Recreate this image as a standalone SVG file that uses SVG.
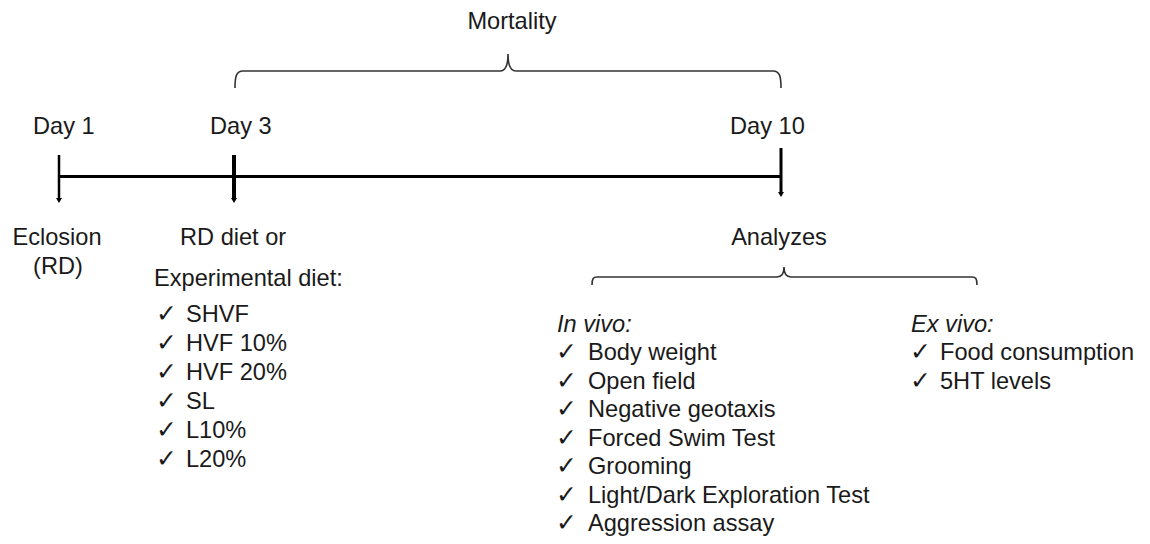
<svg xmlns="http://www.w3.org/2000/svg" width="1150" height="544" viewBox="0 0 1150 544">
<defs>
<style>
text{font-family:"Liberation Sans",Arial,sans-serif;font-size:23.6px;fill:#1a1a1a}
.it{font-style:italic}
.ck{font-family:"DejaVu Sans",sans-serif;font-size:25px}
.brace{fill:none;stroke:#333;stroke-width:1.6}
.axis{stroke:#000;stroke-width:3}
.tick{stroke:#000}
</style>
<marker id="tip" viewBox="0 0 6 6" refX="3" refY="0" markerWidth="6" markerHeight="6" markerUnits="userSpaceOnUse" orient="0">
<path d="M0,0 L6,0 L3,5 z" fill="#000"/>
</marker>
</defs>
<rect width="1150" height="544" fill="#fff"/>
<g id="connectors">
<line class="axis" x1="59" y1="176.5" x2="781" y2="176.5"/>
<line class="tick" x1="59" y1="155" x2="59" y2="198" stroke-width="2.5" marker-end="url(#tip)"/>
<line class="tick" x1="234" y1="155" x2="234" y2="198" stroke-width="4" marker-end="url(#tip)"/>
<line class="tick" x1="781" y1="148" x2="781" y2="192" stroke-width="3" marker-end="url(#tip)"/>
<path class="brace" d="M235,88 C235,77 236,71 243,71 L500,71 C505,71 508,67 508,54 C508,67 511,71 516,71 L773,71 C780,71 781,77 781,88"/>
<path class="brace" d="M592,285 C592,279 593,277 597,277 L777,277 C781,277 784,274 784,267 C784,274 787,277 791,277 L972,277 C976,277 977,279 977,285"/>
</g>
<g id="mortality"><text x="512" y="29" text-anchor="middle">Mortality</text></g>
<g id="day1"><text x="33" y="134">Day 1</text></g>
<g id="day3"><text x="210" y="134">Day 3</text></g>
<g id="day10"><text x="730" y="134">Day 10</text></g>
<g id="eclosion">
<text x="57" y="245" text-anchor="middle">Eclosion</text>
<text x="58" y="273.5" text-anchor="middle">(RD)</text>
</g>
<g id="diet">
<text x="180" y="245">RD diet or</text>
<text x="154" y="285.5">Experimental diet:</text>
<text y="322"><tspan class="ck" x="156">✓</tspan><tspan x="186">SHVF</tspan></text>
<text y="351"><tspan class="ck" x="156">✓</tspan><tspan x="186">HVF 10%</tspan></text>
<text y="380"><tspan class="ck" x="156">✓</tspan><tspan x="186">HVF 20%</tspan></text>
<text y="409"><tspan class="ck" x="156">✓</tspan><tspan x="186">SL</tspan></text>
<text y="438"><tspan class="ck" x="156">✓</tspan><tspan x="186">L10%</tspan></text>
<text y="467"><tspan class="ck" x="156">✓</tspan><tspan x="186">L20%</tspan></text>
</g>
<g id="analyzes"><text x="779" y="245" text-anchor="middle">Analyzes</text></g>
<g id="invivo">
<text x="557" y="331.5" class="it">In vivo:</text>
<text y="360"><tspan class="ck" x="556">✓</tspan><tspan x="588">Body weight</tspan></text>
<text y="388.5"><tspan class="ck" x="556">✓</tspan><tspan x="588">Open field</tspan></text>
<text y="417"><tspan class="ck" x="556">✓</tspan><tspan x="588">Negative geotaxis</tspan></text>
<text y="445.5"><tspan class="ck" x="556">✓</tspan><tspan x="588">Forced Swim Test</tspan></text>
<text y="474"><tspan class="ck" x="556">✓</tspan><tspan x="588">Grooming</tspan></text>
<text y="502.5"><tspan class="ck" x="556">✓</tspan><tspan x="588">Light/Dark Exploration Test</tspan></text>
<text y="531"><tspan class="ck" x="556">✓</tspan><tspan x="588">Aggression assay</tspan></text>
</g>
<g id="exvivo">
<text x="911" y="331.5" class="it">Ex vivo:</text>
<text y="360"><tspan class="ck" x="910">✓</tspan><tspan x="940">Food consumption</tspan></text>
<text y="388.5"><tspan class="ck" x="910">✓</tspan><tspan x="940">5HT levels</tspan></text>
</g>
</svg>
